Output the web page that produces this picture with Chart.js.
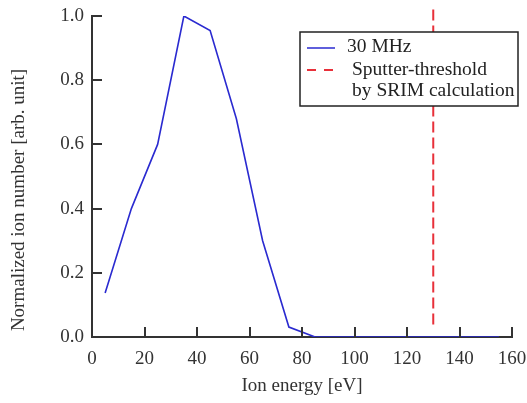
<!DOCTYPE html>
<html>
<head>
<meta charset="utf-8">
<script src="https://cdn.jsdelivr.net/npm/chart.js@4"></script>
<style>
    html, body { margin: 0; padding: 0; background: #fff; }
    #wrap { width: 527px; height: 403px; }
</style>
</head>
<body>
<div id="wrap"><canvas id="ionChart" width="527" height="403"></canvas></div>
<script>
// ion energy distribution, 30 MHz
const energies = [5, 15, 25, 35, 45, 55, 65, 75, 85, 95, 105, 115, 125, 135, 145, 155];
const ionCounts = [0.137, 0.40, 0.60, 1.0, 0.955, 0.68, 0.30, 0.031, 0.0, 0.0, 0.0, 0.0, 0.0, 0.0, 0.0, 0.0];

// sputter threshold from SRIM
const thresholdEnergy = 130;
const thresholdSpan = [1.02, 0.03];

const xTicks = [0, 20, 40, 60, 80, 100, 120, 140, 160];
const yTicks = [0.0, 0.2, 0.4, 0.6, 0.8, 1.0];

const axisColor = '#333333';
const serif = '"Liberation Serif", "DejaVu Serif", serif';

// inward tick marks, titles and the boxed legend
const decorations = {
    id: 'decorations',
    afterDraw(chart) {
        const ctx = chart.ctx;
        const xs = chart.scales.x;
        const ys = chart.scales.y;
        const area = chart.chartArea;

        ctx.save();
        ctx.strokeStyle = axisColor;
        ctx.lineWidth = 2;
        xTicks.forEach(function (v) {
            const px = Math.round(xs.getPixelForValue(v));
            ctx.beginPath();
            ctx.moveTo(px, area.bottom);
            ctx.lineTo(px, area.bottom - 10);
            ctx.stroke();
        });
        yTicks.forEach(function (v) {
            const py = Math.round(ys.getPixelForValue(v));
            ctx.beginPath();
            ctx.moveTo(area.left, py);
            ctx.lineTo(area.left + 10, py);
            ctx.stroke();
        });

        // axis titles
        ctx.fillStyle = axisColor;
        ctx.font = '19px ' + serif;
        ctx.textAlign = 'center';
        ctx.textBaseline = 'middle';
        ctx.fillText('Ion energy [eV]', (area.left + area.right) / 2, 386);
        ctx.translate(19, 200);
        ctx.rotate(-Math.PI / 2);
        ctx.fillText('Normalized ion number [arb. unit]', 0, 0);
        ctx.restore();

        // legend
        ctx.save();
        ctx.fillStyle = '#fff';
        ctx.fillRect(300, 32, 218, 74);
        ctx.strokeStyle = '#222';
        ctx.lineWidth = 1.5;
        ctx.strokeRect(300, 32, 218, 74);

        ctx.lineWidth = 1.5;
        ctx.strokeStyle = chart.data.datasets[0].borderColor;
        ctx.beginPath();
        ctx.moveTo(307, 48);
        ctx.lineTo(335, 48);
        ctx.stroke();

        ctx.lineWidth = 2;
        ctx.strokeStyle = chart.data.datasets[1].borderColor;
        ctx.setLineDash([9, 8]);
        ctx.beginPath();
        ctx.moveTo(307, 70);
        ctx.lineTo(335, 70);
        ctx.stroke();
        ctx.setLineDash([]);

        ctx.fillStyle = '#222';
        ctx.font = '19.5px ' + serif;
        ctx.textAlign = 'left';
        ctx.textBaseline = 'middle';
        ctx.fillText(chart.data.datasets[0].label, 347, 47);
        ctx.fillText('Sputter-threshold', 352, 70);
        ctx.fillText('by SRIM calculation', 352, 91);
        ctx.restore();
    }
};

const ionChart = new Chart(document.getElementById('ionChart'), {
    type: 'line',
    data: {
        datasets: [
            {
                label: '30 MHz',
                data: energies.map(function (e, i) { return { x: e, y: ionCounts[i] }; }),
                borderColor: '#2a2ad0',
                borderWidth: 1.6,
                pointRadius: 0,
                tension: 0,
                fill: false
            },
            {
                label: 'Sputter-threshold by SRIM calculation',
                data: thresholdSpan.map(function (v) { return { x: thresholdEnergy, y: v }; }),
                borderColor: '#e8303a',
                borderWidth: 2,
                borderDash: [11, 5],
                pointRadius: 0,
                fill: false,
                clip: false
            }
        ]
    },
    options: {
        responsive: false,
        animation: false,
        layout: { padding: { top: 16, right: 15, left: 0, bottom: 0 } },
        plugins: {
            legend: { display: false },
            tooltip: { enabled: false }
        },
        scales: {
            x: {
                type: 'linear',
                min: 0,
                max: 160,
                afterFit: function (scale) {
                    scale.height = 66;
                    scale.paddingLeft = 0;
                    scale.paddingRight = 0;
                },
                afterBuildTicks: function (scale) {
                    scale.ticks = xTicks.map(function (v) { return { value: v }; });
                },
                grid: { display: false, drawTicks: false, tickLength: 0 },
                border: { display: true, color: axisColor, width: 2 },
                ticks: {
                    color: axisColor,
                    padding: 11,
                    maxRotation: 0,
                    font: { family: serif, size: 19 },
                    callback: function (v) { return String(v); }
                }
            },
            y: {
                min: 0,
                max: 1,
                afterFit: function (scale) {
                    scale.width = 92;
                    scale.paddingTop = 0;
                    scale.paddingBottom = 0;
                },
                afterBuildTicks: function (scale) {
                    scale.ticks = yTicks.map(function (v) { return { value: v }; });
                },
                grid: { display: false, drawTicks: false, tickLength: 0 },
                border: { display: true, color: axisColor, width: 2 },
                ticks: {
                    color: axisColor,
                    padding: 8,
                    font: { family: serif, size: 19 },
                    callback: function (v) { return Number(v).toFixed(1); }
                }
            }
        }
    },
    plugins: [decorations]
});
</script>
</body>
</html>
